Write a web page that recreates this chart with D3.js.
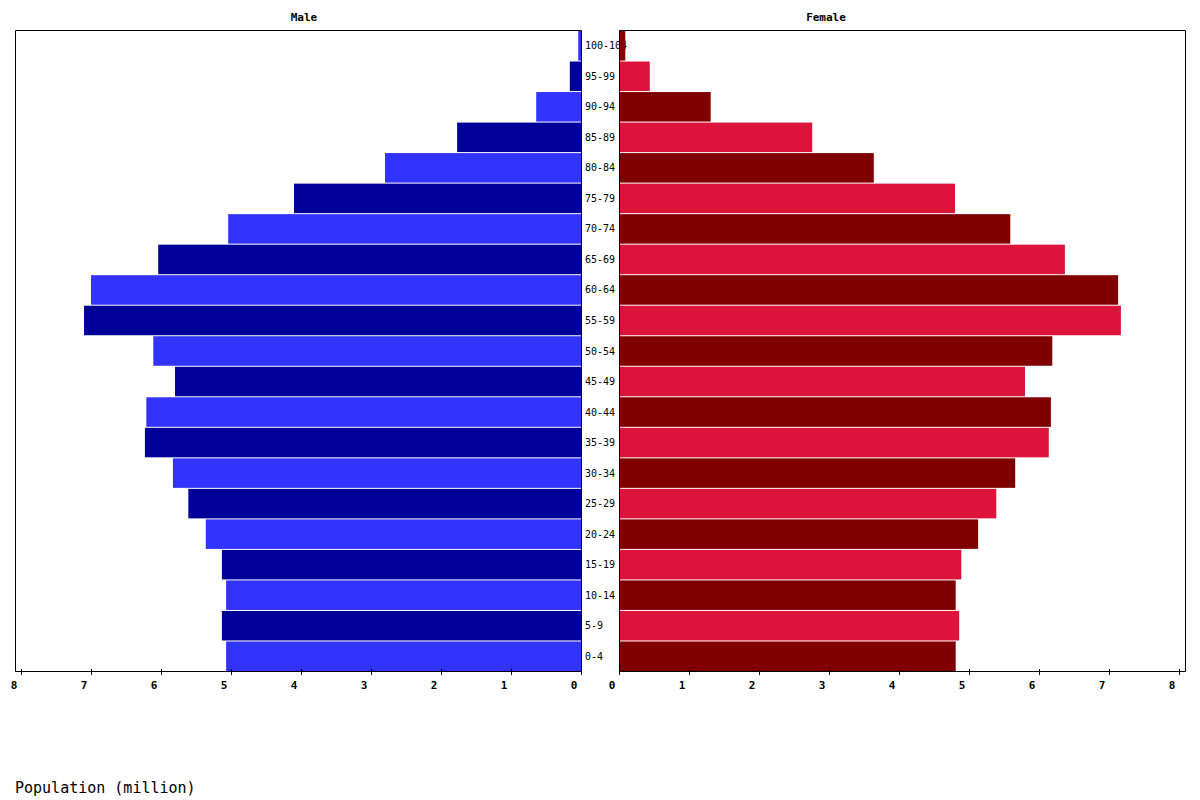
<!DOCTYPE html>
<html><head><meta charset="utf-8">
<script src="https://cdn.jsdelivr.net/npm/d3@7"></script>
<style>body{margin:0;background:#fff}</style>
</head><body>
<svg id="c" width="1200" height="800"></svg>
<script>
const ages = ["0-4","5-9","10-14","15-19","20-24","25-29","30-34","35-39","40-44","45-49","50-54","55-59","60-64","65-69","70-74","75-79","80-84","85-89","90-94","95-99","100-104"];
const male = [5.07,5.13,5.07,5.13,5.36,5.61,5.83,6.23,6.21,5.80,6.11,7.10,7.00,6.04,5.04,4.10,2.80,1.77,0.64,0.16,0.04];
const female = [4.81,4.86,4.81,4.89,5.13,5.39,5.66,6.14,6.17,5.80,6.19,7.17,7.13,6.37,5.59,4.80,3.64,2.76,1.31,0.44,0.09];
const tickVals = [0,1,2,3,4,5,6,7,8];
const maleColors = ["#3333FF","#000099"];
const femaleColors = ["#800000","#DC143C"];

(function(){
const svg = d3.select("#c");
const plotTop = 30, plotBottom = 671;
const xm = d3.scaleLinear().domain([0, 8.086]).range([581, 15]);
const xf = d3.scaleLinear().domain([0, 8.086]).range([619, 1185]);
const y = d3.scaleBand().domain(ages).range([plotBottom, plotTop]).paddingInner(0);
const step = y.step();

svg.append("text").attr("x", 304).attr("y", 21).attr("text-anchor","middle")
  .attr("font-family","DejaVu Sans Mono").attr("font-weight","bold").attr("font-size",11).text("Male");
svg.append("text").attr("x", 826).attr("y", 21).attr("text-anchor","middle")
  .attr("font-family","DejaVu Sans Mono").attr("font-weight","bold").attr("font-size",11).text("Female");

svg.append("g").selectAll("rect").data(ages).join("rect")
  .attr("x", (d,i) => xm(male[i]))
  .attr("width", (d,i) => xm(0) - xm(male[i]))
  .attr("y", d => y(d) + 1)
  .attr("height", step - 1)
  .attr("fill", (d,i) => maleColors[i % 2]);

svg.append("g").selectAll("text").data(ages).join("text")
  .attr("x", 585)
  .attr("y", d => y(d) + step/2 + 4)
  .attr("font-family","DejaVu Sans Mono").attr("font-size",10)
  .text(d => d);

svg.append("g").selectAll("rect").data(ages).join("rect")
  .attr("x", xf(0))
  .attr("width", (d,i) => xf(female[i]) - xf(0))
  .attr("y", d => y(d) + 1)
  .attr("height", step - 1)
  .attr("fill", (d,i) => femaleColors[i % 2]);

function frame(x0, x1) {
  svg.append("path").attr("fill","none").attr("stroke","#000").attr("stroke-width",1)
    .attr("d", `M${x0+0.5},${plotTop+0.5}H${x1+0.5}V${plotBottom+0.5}H${x0+0.5}Z`);
}
frame(15, 581);
frame(619, 1185);

function axis(sc) {
  const g = svg.append("g");
  g.selectAll("line").data(tickVals).join("line")
    .attr("x1", d => Math.round(sc(d)) + 0.5).attr("x2", d => Math.round(sc(d)) + 0.5)
    .attr("y1", plotBottom - 2).attr("y2", plotBottom + 4)
    .attr("stroke", "#000");
  g.selectAll("text").data(tickVals).join("text")
    .attr("x", d => sc(d) - 7).attr("y", 689)
    .attr("text-anchor","middle")
    .attr("font-family","DejaVu Sans Mono").attr("font-weight","bold").attr("font-size",11)
    .text(d => d);
}
axis(xm);
axis(xf);

svg.append("text").attr("x", 15).attr("y", 793)
  .attr("font-family","DejaVu Sans Mono").attr("font-size",15)
  .text("Population (million)");
})();
</script>
</body></html>
